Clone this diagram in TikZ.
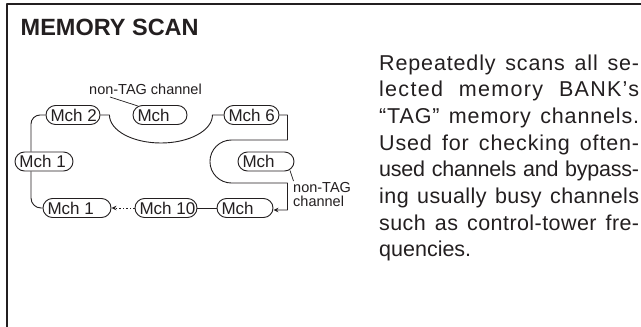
\documentclass[tikz,border=0pt]{standalone}
\usepackage{fontspec}
\setmainfont{Liberation Sans}
\usetikzlibrary{arrows.meta,calc}
\definecolor{ink}{RGB}{35,31,32}
\newcommand\pilltext[2]{\makebox[#1pt][l]{\hspace{4.5pt}#2}}
\newcommand\bodyline[2]{\makebox[260pt][s]{\addfontfeature{LetterSpace=#1}#2}}
\begin{document}
\begin{tikzpicture}[x=1pt,y=-1pt,line join=round,
  pill/.style={draw=ink,line width=0.9pt,rounded corners=9.5pt,minimum height=19pt,inner sep=0pt,
    text=ink,font=\fontsize{17}{19}\selectfont},
  conn/.style={draw=ink,line width=0.9pt},
  lead/.style={draw=ink,line width=0.7pt},
  lbl/.style={text=ink,inner sep=0pt,font=\fontsize{14.5}{14}\selectfont},
  body/.style={text=ink,inner sep=0pt,anchor=base west,font=\fontsize{21.5}{26.67}\selectfont},
  tip/.style={-{Stealth[length=5pt,width=4.5pt]}}]
\useasboundingbox (0,0) rectangle (641,327);
\fill[white] (0,0) rectangle (641,327);
\draw[ink,line width=1.3pt] (641,4) -- (7,4) -- (7,327);

\node[text=ink,inner sep=0pt,anchor=base west,font=\fontsize{23.5}{28}\selectfont\bfseries] (title) at (20.5,35) {MEMORY SCAN};

\node[body] (t1) at (379,70) {\bodyline{4}{Repeatedly scans all se-}};
\node[body] (t2) at (379,96.67) {\bodyline{6}{lected memory BANK’s}};
\node[body] (t3) at (379,123.33) {\bodyline{4}{“TAG” memory channels.}};
\node[body] (t4) at (379,150) {\bodyline{4}{Used for checking often-}};
\node[body] (t5) at (379,176.67) {\bodyline{-1}{used channels and bypass-}};
\node[body] (t6) at (379,203.33) {\bodyline{2}{ing usually busy channels}};
\node[body] (t7) at (379,230) {\bodyline{2}{such as control-tower fre-}};
\node[body] (t8) at (379,256.67) {quencies.};

% pills
\node[pill] (L1) at (44,161.5) {\pilltext{58}{Mch 1}};
\node[pill] (M2) at (73,115) {\pilltext{54}{Mch 2}};
\node[pill] (MT) at (160,115) {\pilltext{54}{Mch}};
\node[pill] (M6) at (251.5,115) {\pilltext{55}{Mch 6}};
\node[pill] (MR) at (266,161.5) {\pilltext{56}{Mch}};
\node[pill] (B1) at (77,208) {\pilltext{68}{Mch 1}};
\node[pill] (B10) at (166,208) {\pilltext{62}{Mch 10}};
\node[pill] (BM) at (245,208) {\pilltext{56}{Mch}};

% labels
\node[lbl,anchor=base west] (lbl1) at (89,94) {non-TAG channel};
\node[lbl,anchor=north west,align=left] (lbl2) at (293,182.5) {non-TAG\\channel};

% leaders
\draw[lead] ($(lbl1.base west)+(21,3)$) -- ($(MT.north west)+(5.5,1)$);
\draw[lead] ($(MR.south east)+(-4.5,-1)$) -- ($(lbl2.north west)+(0.5,-1.5)$);

% connectors
\draw[conn,rounded corners=9pt] (M2.west) -| ($(L1.north)+(-13,0)$);
\draw[conn,rounded corners=10pt] ($(L1.south)+(-13,0)$) |- (B1.west);
\draw[conn] (M2.east) -- ++(9,0) arc[start angle=180,end angle=0,x radius=51.5,y radius=28] -- (M6.west);
\draw[conn,tip] (M6.east) -- ++(8,0) -- ++(0,25) -- ++(-56,0)
  arc[start angle=270,end angle=90,radius=21.5] -- ++(56,0) |- ([yshift=-2pt]BM.east);
\draw[conn] (BM.west) -- (B10.east);
\draw[conn,dash pattern=on 1.3pt off 2.2pt,tip] (B10.west) -- (B1.east);
\end{tikzpicture}
\end{document}
